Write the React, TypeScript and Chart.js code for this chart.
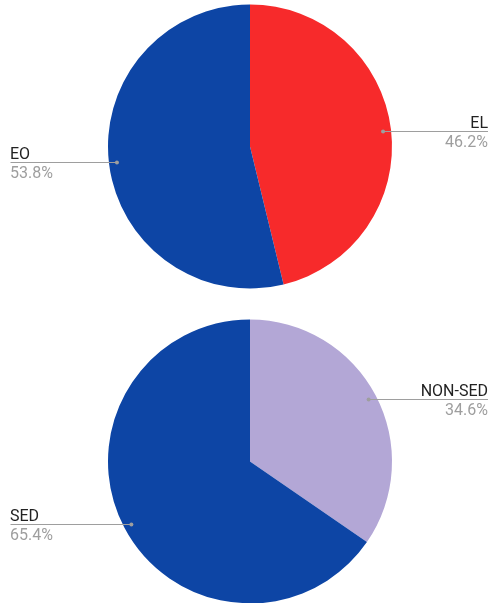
import React, { useEffect, useRef } from "react";
import { Chart, registerables } from "chart.js";

Chart.register(...registerables);

const topLabels = ["EL", "EO"];
const topValues = [46.2, 53.8];
const topColors = ["#F72A2B", "#0D45A5"];

const bottomLabels = ["NON-SED", "SED"];
const bottomValues = [34.6, 65.4];
const bottomColors = ["#B3A7D6", "#0D45A5"];

const FONT = "Roboto, 'Noto Sans', sans-serif";

const leaderPlugin = {
  id: "leaderLabels",
  afterDraw(chart: any) {
    const ctx = chart.ctx;
    const meta = chart.getDatasetMeta(0);
    const data = chart.data.datasets[0].data as number[];
    const total = data.reduce((a, b) => a + b, 0);
    const W = chart.width;
    meta.data.forEach((arc: any, i: number) => {
      const p = arc.getProps(["x", "y", "startAngle", "endAngle", "outerRadius"], true);
      const mid = (p.startAngle + p.endAngle) / 2;
      const r = p.outerRadius - 8;
      const dx = p.x + Math.cos(mid) * r;
      const dy = p.y + Math.sin(mid) * r;
      const right = Math.cos(mid) >= 0;
      const endX = right ? W - 4 : 10.5;
      ctx.save();
      ctx.strokeStyle = "#9e9e9e";
      ctx.lineWidth = 1;
      ctx.beginPath();
      const ly = Math.round(dy) + 0.5;
      ctx.moveTo(dx, ly);
      ctx.lineTo(endX, ly);
      ctx.stroke();
      ctx.fillStyle = "#9e9e9e";
      ctx.beginPath();
      ctx.arc(dx, ly, 2, 0, Math.PI * 2);
      ctx.fill();
      ctx.font = `16px ${FONT}`;
      ctx.textAlign = right ? "right" : "left";
      ctx.textBaseline = "alphabetic";
      ctx.fillStyle = "#222222";
      const tx = right ? W - 4 : 10;
      ctx.fillText(chart.data.labels[i], tx, ly - 4);
      ctx.fillStyle = "#9e9e9e";
      ctx.fillText(((data[i] / total) * 100).toFixed(1) + "%", tx, ly + 15);
      ctx.restore();
    });
  },
};

function PieCanvas(props: {
  labels: string[];
  values: number[];
  colors: string[];
  top: number;
  padTop: number;
  padBottom: number;
}) {
  const ref = useRef<HTMLCanvasElement>(null);
  useEffect(() => {
    if (!ref.current) return;
    const chart = new Chart(ref.current, {
      type: "pie",
      data: {
        labels: props.labels,
        datasets: [
          {
            data: props.values,
            backgroundColor: props.colors,
            borderWidth: 0,
          },
        ],
      },
      options: {
        responsive: false,
        animation: false,
        layout: {
          padding: { left: 108, right: 100, top: props.padTop, bottom: props.padBottom },
        },
        plugins: {
          legend: { display: false },
          tooltip: { enabled: false },
        },
      },
      plugins: [leaderPlugin],
    });
    return () => chart.destroy();
  }, []);
  return (
    <canvas
      ref={ref}
      width={492}
      height={303}
      style={{ position: "absolute", left: 0, top: props.top, width: 492, height: 303 }}
    />
  );
}

export default function App() {
  return (
    <div
      style={{
        position: "fixed",
        left: 0,
        top: 0,
        width: 492,
        height: 603,
        overflow: "hidden",
        background: "#ffffff",
      }}
    >
      <PieCanvas labels={topLabels} values={topValues} colors={topColors} top={0} padTop={4} padBottom={14} />
      <PieCanvas labels={bottomLabels} values={bottomValues} colors={bottomColors} top={303} padTop={16} padBottom={2} />
    </div>
  );
}
